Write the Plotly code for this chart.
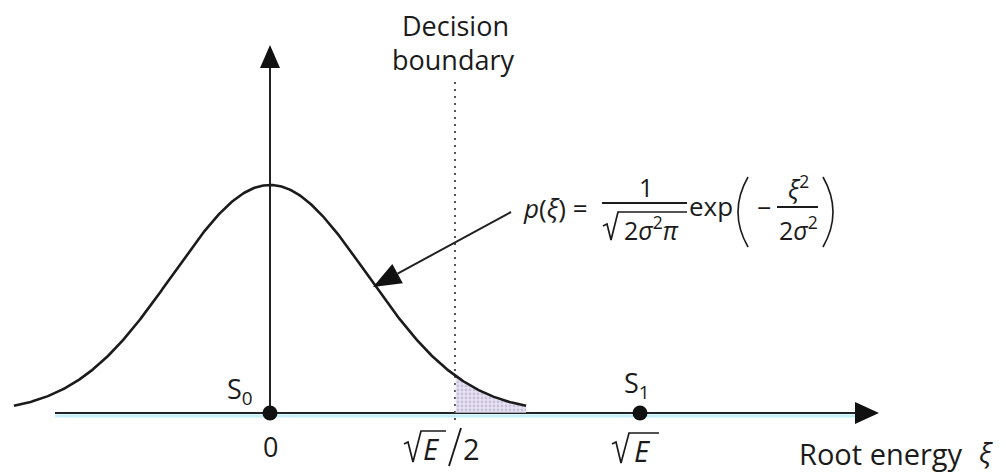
import numpy as np
import plotly.graph_objects as go

# Detection model: Gaussian noise around S0, decision boundary half-way to S1
SIGMA = 1.0
SQRT_E = 3.8               # root energy of S1 (in units of sigma)
CURVE_LIMIT = 2.63         # drawn extent of the density either side of S0
THRESHOLD = SQRT_E / 2     # decision boundary

SIGNAL_NAMES = ["S<sub>0</sub>", "S<sub>1</sub>"]
SIGNAL_POSITIONS = [0.0, SQRT_E]
TICK_POSITIONS = [0.0, THRESHOLD, SQRT_E]

PEAK = 1.0 / np.sqrt(2 * SIGMA**2 * np.pi)
xi = np.linspace(-CURVE_LIMIT, CURVE_LIMIT, 401)
p_xi = PEAK * np.exp(-xi**2 / (2 * SIGMA**2))

# ---- canvas geometry (pixels) ----
W, H = 1006, 474
ORIGIN_X, ORIGIN_Y = 270, 413
X_SCALE = 370 / SQRT_E          # px per unit on the xi axis
Y_SCALE = 228 / PEAK            # px per unit of density


def ux(px):
    return (px - ORIGIN_X) / X_SCALE


def uy(py):
    return (ORIGIN_Y - py) / Y_SCALE


INK = "#1b1b1b"
FONT = "Open Sans"

fig = go.Figure()

# shaded tail beyond the decision boundary (error region)
tail = xi >= THRESHOLD
fig.add_trace(go.Scatter(
    x=xi[tail], y=p_xi[tail], mode="lines", fill="tozeroy",
    line=dict(width=0, color="rgba(0,0,0,0)"),
    fillcolor="rgba(208,200,228,0.7)",
    fillpattern=dict(shape=".", fgcolor="rgba(150,135,190,0.75)",
                     bgcolor="rgba(222,214,236,0.7)", size=4, solidity=0.4),
    hoverinfo="skip", showlegend=False))

# density curve
fig.add_trace(go.Scatter(x=xi, y=p_xi, mode="lines",
                         line=dict(color=INK, width=2.6),
                         hoverinfo="skip", showlegend=False))

# signal points
fig.add_trace(go.Scatter(x=SIGNAL_POSITIONS, y=[0, 0], mode="markers",
                         marker=dict(size=15, color="#111111"),
                         hoverinfo="skip", showlegend=False))

shapes = []


def seg(x0, y0, x1, y1, color=INK, width=1.8, layer="above", dash=None):
    line = dict(color=color, width=width)
    if dash:
        line["dash"] = dash
    shapes.append(dict(type="line", xref="x", yref="y", layer=layer,
                       x0=ux(x0), y0=uy(y0), x1=ux(x1), y1=uy(y1), line=line))


def poly(points, closed=False, fill=None, width=1.8, layer="above"):
    d = "M " + " L ".join(f"{ux(x)},{uy(y)}" for x, y in points)
    if closed:
        d += " Z"
    shapes.append(dict(type="path", xref="x", yref="y", layer=layer, path=d,
                       fillcolor=fill if fill else "rgba(0,0,0,0)",
                       line=dict(color=INK, width=0 if fill else width)))


def radical(x_start, y_start, x_low, y_low, x_top, y_top, x_end):
    # hand-drawn radical sign with its vinculum
    poly([(x_start, y_start), (x_start + 4, y_start - 2), (x_low, y_low),
          (x_top, y_top), (x_end, y_top)], width=1.7)


def paren(x_tip, x_mid, y_top, y_bot):
    ym = (y_top + y_bot) / 2
    cx = 2 * x_mid - x_tip
    shapes.append(dict(type="path", xref="x", yref="y",
                       path=(f"M {ux(x_tip)},{uy(y_top)} Q {ux(cx)},{uy(ym)} "
                             f"{ux(x_tip)},{uy(y_bot)}"),
                       line=dict(color=INK, width=1.6)))


# faint cyan fringe under the horizontal axis
seg(55, 416, 856, 416, color="rgba(150,225,240,0.55)", width=3, layer="below")
# horizontal axis with arrowhead
seg(55, 413, 860, 413, color="#1f2424", width=2.2, layer="below")
poly([(879, 413), (855, 402), (855, 424)], closed=True, fill="#111111", layer="below")
# vertical axis with arrowhead
seg(270, 413, 270, 62, color="#222222", width=2, layer="below")
poly([(270, 45), (260, 68), (280, 68)], closed=True, fill="#111111", layer="below")
# decision boundary
shapes.append(dict(type="line", xref="x", yref="y", layer="below",
                   x0=THRESHOLD, x1=THRESHOLD, y0=uy(420), y1=uy(82),
                   line=dict(color="#555555", width=2, dash="2px,5px")))

# pointer from the formula to the curve
tip = np.array([373.0, 287.0])
tail_pt = np.array([511.0, 212.0])
u = (tail_pt - tip) / np.linalg.norm(tail_pt - tip)
n = np.array([-u[1], u[0]])
base = tip + 28 * u
b1, b2 = base + 11 * n, base - 11 * n
seg(base[0], base[1], tail_pt[0], tail_pt[1], color="#222222", width=2)
poly([tuple(tip), tuple(b1), tuple(b2)], closed=True, fill="#111111")

# fraction bars
seg(602, 203, 687, 203)
seg(777, 207, 818, 207)
# radicals
radical(603, 226, 611, 240, 618, 212, 687)
radical(404, 444, 413, 462, 421, 431, 446)
radical(612, 444, 621, 463, 629, 433, 659)
# slash in sqrt(E)/2
seg(449, 466, 461, 428, width=1.9)
# large parentheses
paren(748, 738, 177, 247)
paren(823, 833, 177, 247)

annotations = []


def label(text, xpx, ypx, size=26, x_data=None, anchor="center"):
    annotations.append(dict(
        text=text, xref="x", yref="y",
        x=x_data if x_data is not None else ux(xpx), y=uy(ypx),
        xanchor=anchor, yanchor="middle", showarrow=False,
        font=dict(family=FONT, size=size, color=INK)))


label("Decision", 455, 25, size=27)
label("boundary", 453, 59, size=27)
label("Root energy", 797, 453, size=29, anchor="left")
label("<i>ξ</i>", 986, 452, size=28)

# signal names and axis ticks
label(SIGNAL_NAMES[0], 240, 390, size=27)
label(SIGNAL_NAMES[1], 637, 384, size=27)
label("0", 0, 446, size=27, x_data=TICK_POSITIONS[0])
label("<i>E</i>", 431, 448, size=29)
label("2", 471, 448, size=29)
label("<i>E</i>", 642, 450, size=29)

# density formula
label("<i>p</i>(<i>ξ</i>) =", 555, 208, size=26)
label("1", 646, 187, size=25)
label("2<i>σ</i><sup>2</sup><i>π</i>", 651, 228, size=25)
label("exp", 711, 206, size=26)
label("−", 764, 207, size=25)
label("<i>ξ</i><sup>2</sup>", 798, 187, size=25)
label("2<i>σ</i><sup>2</sup>", 798, 228, size=25)

fig.update_layout(
    width=W, height=H,
    margin=dict(l=0, r=0, t=0, b=0),
    paper_bgcolor="white", plot_bgcolor="white",
    xaxis=dict(range=[ux(0), ux(W)], visible=False, fixedrange=True),
    yaxis=dict(range=[uy(H), uy(0)], visible=False, fixedrange=True),
    shapes=shapes, annotations=annotations, showlegend=False,
)

fig.write_html("out.html")
